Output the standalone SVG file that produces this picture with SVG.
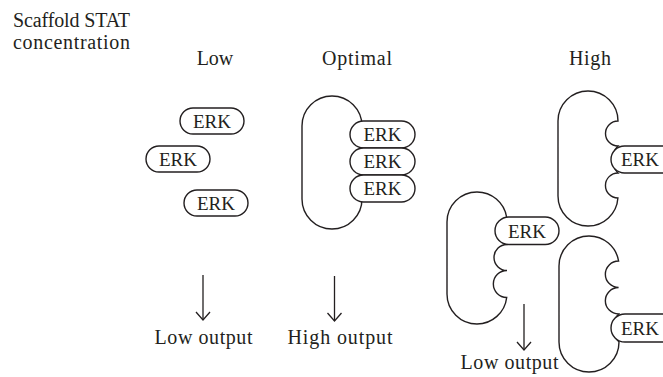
<svg xmlns="http://www.w3.org/2000/svg" width="663" height="377" viewBox="0 0 663 377">
<defs>
<style>
.t{font-family:"Liberation Serif","Times New Roman",serif;font-size:20px;fill:#231f20}
.e{font-family:"Liberation Serif","Times New Roman",serif;font-size:19px;fill:#231f20;text-anchor:middle}
.es{font-family:"Liberation Serif","Times New Roman",serif;font-size:19px;fill:#231f20}
.c{text-anchor:middle}
.s{fill:#fff;stroke:#231f20;stroke-width:1.4}
.a{stroke:#231f20;stroke-width:1.3;fill:none}
</style>
<marker id="v" viewBox="-10 -8 12 16" refX="0" refY="0" markerWidth="12" markerHeight="16" markerUnits="userSpaceOnUse" orient="auto">
<path d="M-8,-7 L0,0 L-8,7" fill="none" stroke="#231f20" stroke-width="1.3"/>
</marker>
</defs>
<rect width="663" height="377" fill="#fff"/>
<g id="header">
<text class="t" x="13" y="27" textLength="117" lengthAdjust="spacing">Scaffold STAT</text>
<text class="t" x="13" y="49" textLength="117" lengthAdjust="spacing">concentration</text>
<text class="t c" x="215" y="65">Low</text>
<text class="t c" x="357" y="65" textLength="70" lengthAdjust="spacing">Optimal</text>
<text class="t c" x="590" y="65" textLength="42" lengthAdjust="spacing">High</text>
</g>
<g id="low-erk1"><rect class="s" x="180" y="108" width="64" height="26" rx="13"/><text class="e" x="212" y="127.5">ERK</text></g>
<g id="low-erk2"><rect class="s" x="146" y="146" width="64" height="26" rx="13"/><text class="e" x="178" y="165.5">ERK</text></g>
<g id="low-erk3"><rect class="s" x="184" y="190" width="64" height="26" rx="13"/><text class="e" x="216" y="209.5">ERK</text></g>
<g id="optimal-scaffold"><rect class="s" x="302" y="96" width="60" height="133" rx="30"/></g>
<g id="optimal-erk1"><rect class="s" x="350" y="121" width="65" height="27" rx="13.5"/><text class="e" x="382.5" y="141">ERK</text></g>
<g id="optimal-erk2"><rect class="s" x="350" y="148" width="65" height="27" rx="13.5"/><text class="e" x="382.5" y="168">ERK</text></g>
<g id="optimal-erk3"><rect class="s" x="350" y="175" width="65" height="27" rx="13.5"/><text class="e" x="382.5" y="195">ERK</text></g>
<g id="high-scaffold-top"><path class="s" d="M588,91 A30,30 0 0 1 618,121 A12.5,12.5 0 0 0 618,146 A19.3,19.3 0 0 0 618,173 A12.5,12.5 0 0 0 617.9,198 A30,30 0 0 1 588,226 A30,30 0 0 1 558,196 L558,121 A30,30 0 0 1 588,91 Z"/></g>
<g id="high-erk-top"><rect class="s" x="611" y="146" width="80" height="27" rx="13.5"/><text class="es" x="621" y="166">ERK</text></g>
<g id="high-scaffold-mid"><path class="s" d="M477,192 A30,30 0 0 1 506.6,217 L507,244.5 A13,13 0 0 0 507,270.5 A13.5,13.5 0 0 0 506.7,297.5 A30,30 0 0 1 477,324 A30,30 0 0 1 447,294 L447,222 A30,30 0 0 1 477,192 Z"/></g>
<g id="high-erk-mid"><rect class="s" x="495" y="217" width="64" height="27.5" rx="13.75"/><text class="e" x="527" y="237.5">ERK</text></g>
<g id="high-scaffold-bottom"><path class="s" d="M589,236 A30,30 0 0 1 618.6,261 A13.25,13.25 0 0 0 618.6,287.5 A13.25,13.25 0 0 0 618.6,314 A20,20 0 0 0 619,342 A30,30 0 0 1 589,372 A30,30 0 0 1 559,342 L559,266 A30,30 0 0 1 589,236 Z"/></g>
<g id="high-erk-bottom"><rect class="s" x="611" y="314" width="80" height="28" rx="14"/><text class="es" x="621" y="334.5">ERK</text></g>
<g id="connectors">
<line class="a" x1="203" y1="275" x2="203" y2="320" marker-end="url(#v)"/>
<line class="a" x1="334.5" y1="276" x2="334.5" y2="321" marker-end="url(#v)"/>
<line class="a" x1="524" y1="304" x2="524" y2="350" marker-end="url(#v)"/>
</g>
<g id="outputs">
<text class="t c" x="203.5" y="344" textLength="98" lengthAdjust="spacing">Low output</text>
<text class="t c" x="340" y="344" textLength="105" lengthAdjust="spacing">High output</text>
<text class="t c" x="509.5" y="369" textLength="98" lengthAdjust="spacing">Low output</text>
</g>
</svg>
